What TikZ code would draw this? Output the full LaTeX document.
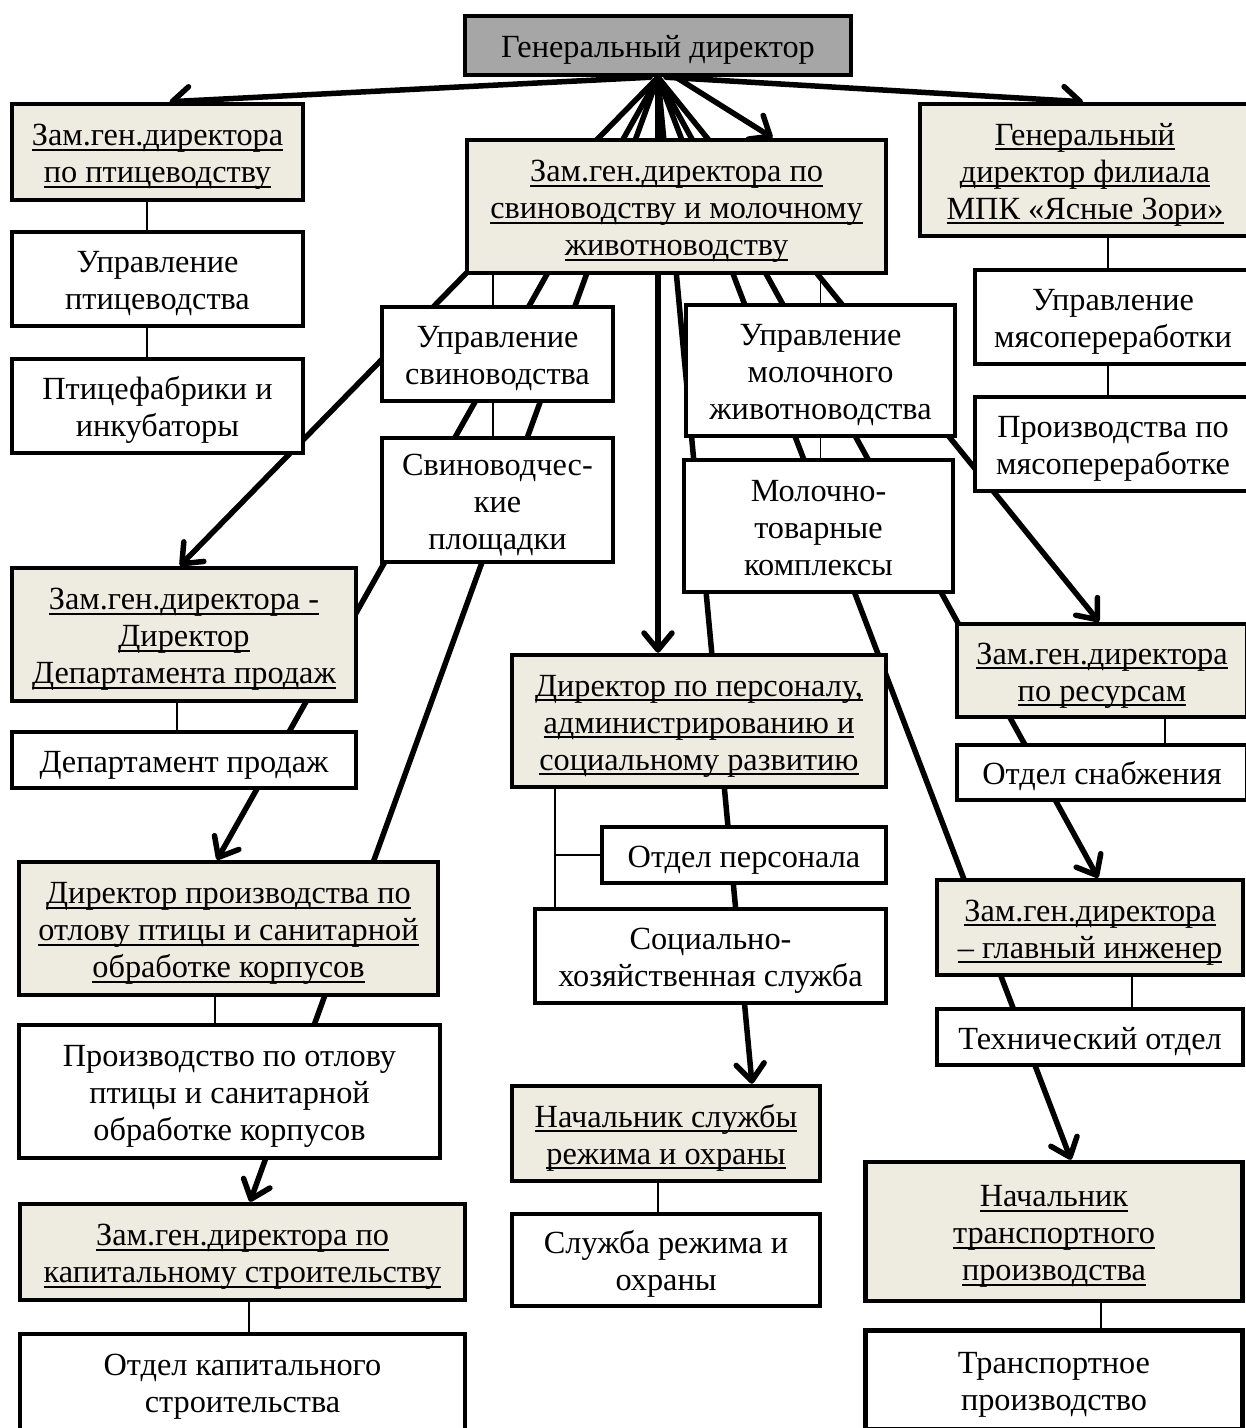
\documentclass[tikz,border=0pt]{standalone}
\usepackage{fontspec}
\setmainfont{Liberation Serif}
\usetikzlibrary{arrows.meta,backgrounds}
\definecolor{tanbg}{HTML}{EEECE1}
\definecolor{topgray}{HTML}{A6A6A6}
\newsavebox\ulbox
\newcommand\T[1]{\raisebox{0pt}[27pt][3pt]{#1}}
\newcommand\U[1]{\sbox\ulbox{#1}\raisebox{0pt}[27pt][3pt]{\rlap{\rule[-5pt]{\wd\ulbox}{1.7pt}}\usebox\ulbox}}
\begin{document}
\begin{tikzpicture}[x=1pt,y=-1pt,
  box/.style={draw, rectangle, line width=4.5pt, fill=white, align=center, inner sep=0pt,
    font=\fontsize{32.3}{37}\selectfont},
  tanbox/.style={box, fill=tanbg},
  topbox/.style={box, fill=topgray},
  fatline/.style={line width=5.5pt, line cap=round},
  arr/.style={fatline, -{Straight Barb[length=17pt,width=28pt,round]}},
  thinline/.style={line width=1.6pt}]
\useasboundingbox (0,0) rectangle (1246,1428);

% boxes
\node[topbox, minimum width=386, minimum height=59] (gd) at (658,45.5) {\T{Генеральный директор}};
\node[tanbox, minimum width=291, minimum height=96] (zp) at (157.5,152) {\U{Зам.ген.директора}\\\U{по птицеводству}};
\node[box, minimum width=291, minimum height=94] (up) at (157.5,279) {\T{Управление}\\\T{птицеводства}};
\node[box, minimum width=291, minimum height=94] (pf) at (157.5,406) {\T{Птицефабрики и}\\\T{инкубаторы}};
\node[tanbox, minimum width=419, minimum height=133] (zs) at (676.5,206.5) {\U{Зам.ген.директора по}\\\U{свиноводству и молочному}\\\U{животноводству}};
\node[tanbox, minimum width=330, minimum height=132] (gf) at (1085,170) {\U{Генеральный}\\\U{директор филиала}\\\U{МПК «Ясные Зори»}};
\node[box, minimum width=276, minimum height=94] (um) at (1113,317) {\T{Управление}\\\T{мясопереработки}};
\node[box, minimum width=276, minimum height=94] (pm) at (1113,444) {\T{Производства по}\\\T{мясопереработке}};
\node[box, minimum width=231, minimum height=94] (us) at (497.5,354) {\T{Управление}\\\T{свиноводства}};
\node[box, minimum width=231, minimum height=124] (sp) at (497.5,500) {\T{Свиноводчес-}\\\T{кие}\\\T{площадки}};
\node[box, minimum width=269, minimum height=131] (umol) at (820.5,370.5) {\T{Управление}\\\T{молочного}\\\T{животноводства}};
\node[box, minimum width=269, minimum height=132] (mt) at (818.5,526) {\T{Молочно-}\\\T{товарные}\\\T{комплексы}};
\node[tanbox, minimum width=344, minimum height=133] (zpr) at (184,634.5) {\U{Зам.ген.директора -}\\\U{Директор}\\\U{Департамента продаж}};
\node[box, minimum width=344, minimum height=56] (dp) at (184,760) {\T{Департамент продаж}};
\node[tanbox, minimum width=374, minimum height=132] (dper) at (699,721) {\U{Директор по персоналу,}\\\U{администрированию и}\\\U{социальному развитию}};
\node[box, minimum width=284, minimum height=56] (op) at (744,855) {\T{Отдел персонала}};
\node[box, minimum width=351, minimum height=94] (sh) at (710.5,956) {\T{Социально-}\\\T{хозяйственная служба}};
\node[tanbox, minimum width=290, minimum height=93] (zr) at (1102,670.5) {\U{Зам.ген.директора}\\\U{по ресурсам}};
\node[box, minimum width=290, minimum height=55] (os) at (1102,772.5) {\T{Отдел снабжения}};
\node[tanbox, minimum width=419, minimum height=133] (dpo) at (228.5,928.5) {\U{Директор производства по}\\\U{отлову птицы и санитарной}\\\U{обработке корпусов}};
\node[box, minimum width=421, minimum height=133] (pro) at (229.5,1091.5) {\T{Производство по отлову}\\\T{птицы и санитарной}\\\T{обработке корпусов}};
\node[tanbox, minimum width=445, minimum height=96] (zk) at (242.5,1252) {\U{Зам.ген.директора по}\\\U{капитальному строительству}};
\node[box, minimum width=445, minimum height=96] (ok) at (242.5,1382) {\T{Отдел капитального}\\\T{строительства}};
\node[tanbox, minimum width=308, minimum height=95] (ns) at (666,1133.5) {\U{Начальник службы}\\\U{режима и охраны}};
\node[box, minimum width=308, minimum height=92] (sr) at (666,1260) {\T{Служба режима и}\\\T{охраны}};
\node[tanbox, minimum width=306, minimum height=95] (gi) at (1090,927.5) {\U{Зам.ген.директора}\\\U{– главный инженер}};
\node[box, minimum width=306, minimum height=56] (to) at (1090,1037) {\T{Технический отдел}};
\node[tanbox, minimum width=377, minimum height=139] (nt) at (1054,1231.5) {\U{Начальник}\\\U{транспортного}\\\U{производства}};
\node[box, minimum width=377, minimum height=99] (tp) at (1054,1380) {\T{Транспортное}\\\T{производство}};

\coordinate (pj) at ([xshift=-144]dper.south |- op.west);

\begin{scope}[on background layer]
\fill[white] (0,0) rectangle (1246,1428);
% thick arrows from the general director
\draw[arr] ([xshift=-8]gd.south) -- ([xshift=12]zp.north);
\draw[arr] ([xshift=8]gd.south) -- ([xshift=-2]gf.north);
\draw[arr] ([xshift=18]gd.south) -- ([xshift=96]zs.north);
\draw[arr] (gd.south) -- ([xshift=-4]zpr.north);
\draw[arr] (gd.south) -- (gd.south |- dper.north);
\draw[arr] (gd.south) -- ([xshift=7.5]zk.north);
\draw[arr] (gd.south) -- ([xshift=-11.5]dpo.north);
\draw[arr] (gd.south) -- ([xshift=86]ns.north);
\draw[arr] (gd.south) -- ([xshift=17]nt.north);
\draw[arr] (gd.south) -- ([xshift=8]gi.north);
\draw[arr] (gd.south) -- ([xshift=-3]zr.north);
% thin subordination lines
\draw[thinline] ([xshift=-10.5]zp.south) -- ([xshift=-10.5]up.north);
\draw[thinline] ([xshift=-10.5]up.south) -- ([xshift=-10.5]pf.north);
\draw[thinline] ([xshift=-4.5]us.north |- zs.south) -- ([xshift=-4.5]us.north);
\draw[thinline] ([xshift=-4.5]us.south) -- ([xshift=-4.5]sp.north);
\draw[thinline] (umol.north |- zs.south) -- (umol.north);
\draw[thinline] (umol.south) -- (umol.south |- mt.north);
\draw[thinline] ([xshift=23]gf.south) -- ([xshift=-5]um.north);
\draw[thinline] ([xshift=-5]um.south) -- ([xshift=-5]pm.north);
\draw[thinline] ([xshift=-7]zpr.south) -- ([xshift=-7]dp.north);
\draw[thinline] ([xshift=-144]dper.south) -- ([xshift=-144]dper.south |- sh.north);
\draw[thinline] (pj) -- (op.west);
\draw[thinline] ([xshift=-13.5]dpo.south) -- ([xshift=-13.5]dpo.south |- pro.north);
\draw[thinline] ([xshift=6.5]zk.south) -- ([xshift=6.5]ok.north);
\draw[thinline] ([xshift=-8]ns.south) -- ([xshift=-8]sr.north);
\draw[thinline] ([xshift=63]zr.south) -- ([xshift=63]os.north);
\draw[thinline] ([xshift=42]gi.south) -- ([xshift=42]to.north);
\draw[thinline] ([xshift=47]nt.south) -- ([xshift=47]tp.north);
\end{scope}
\end{tikzpicture}
\end{document}
